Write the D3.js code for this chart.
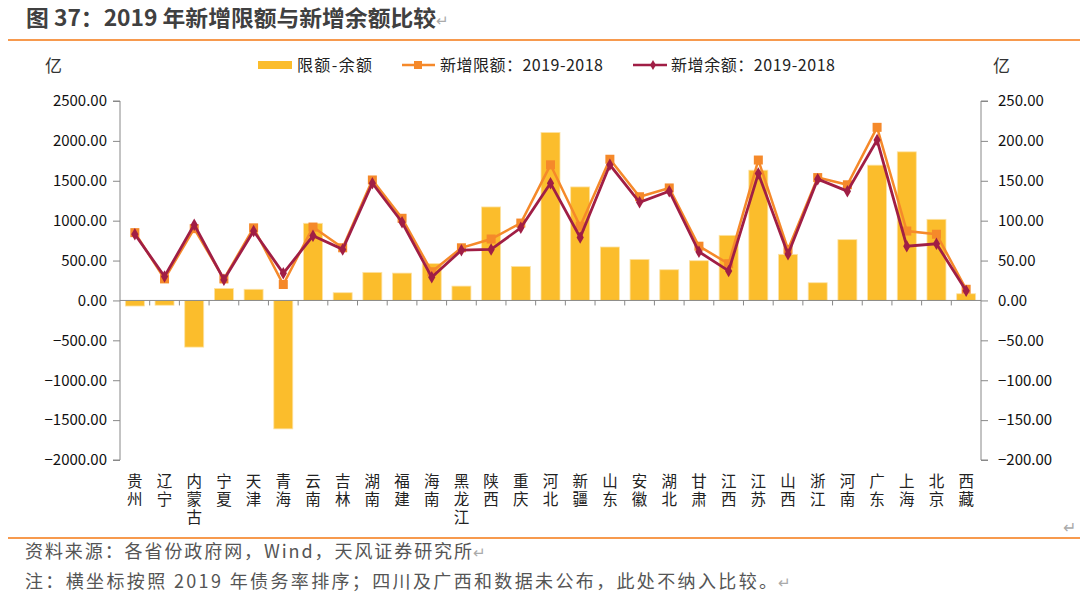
<!DOCTYPE html>
<html><head><meta charset="utf-8">
<script src="https://cdn.jsdelivr.net/npm/d3@7"></script>
<style>
body{margin:0;background:#fff;}
svg text{font-family:"Noto Sans CJK SC","Noto Sans",sans-serif;}
</style></head>
<body><svg id="c" width="1080" height="603"></svg>
<script>
const categories=["贵州","辽宁","内蒙古","宁夏","天津","青海","云南","吉林","湖南","福建","海南","黑龙江","陕西","重庆","河北","新疆","山东","安徽","湖北","甘肃","江西","江苏","山西","浙江","河南","广东","上海","北京","西藏"];
const diffValues=[-70,-60,-585,150,140,-1610,967,97,352,343,461,180,1172,427,2106,1423,670,515,385,498,816,1633,578,222,762,1696,1863,1017,84];
const newLimit=[85,27,90,27,91,20,92,66,151,103,36,66,77,97,170,93,177,130,141,68,46,176,64,154,145,217,87,83,14];
const newBalance=[83,30,95,26,87,34,81,64,147,98,29,63,64,91,147,79,170,123,137,61,37,159,58,152,137,201,68,71,12];
const leftTicks=[2500,2000,1500,1000,500,0,-500,-1000,-1500,-2000];
const rightTicks=[250,200,150,100,50,0,-50,-100,-150,-200];

const svg=d3.select("#c");
const L=120,R=981,T=101,B=460;
const yL=d3.scaleLinear().domain([-2000,2500]).range([B,T]);
const yR=d3.scaleLinear().domain([-200,250]).range([B,T]);
const x=d3.scaleBand().domain(categories).range([L,R]).paddingInner(0.36).paddingOuter(0.18);
const xb=d3.scaleBand().domain(categories).range([L,R]);

// title
svg.append("text").attr("x",26).attr("y",26).attr("font-size",22).attr("font-weight","bold").attr("fill","#404040")
  .attr("textLength",410).attr("lengthAdjust","spacingAndGlyphs")
  .text("图 37：2019 年新增限额与新增余额比较");
svg.append("text").attr("x",436).attr("y",26).attr("font-size",15).attr("fill","#aaa").text("↵");
svg.append("line").attr("x1",8).attr("x2",1080).attr("y1",40).attr("y2",40).attr("stroke","#F79A4E").attr("stroke-width",2);
svg.append("line").attr("x1",8).attr("x2",1080).attr("y1",538).attr("y2",538).attr("stroke","#F79A4E").attr("stroke-width",2);

// units
svg.append("text").attr("x",45).attr("y",72).attr("font-size",17).attr("fill","#333").text("亿");
svg.append("text").attr("x",993).attr("y",72).attr("font-size",17).attr("fill","#333").text("亿");

// left axis
const gl=svg.append("g").attr("transform",`translate(${L},0)`)
  .call(d3.axisLeft(yL).tickValues(leftTicks).tickFormat(d=>d3.format(".2f")(d)).tickSize(7).tickPadding(6));
gl.select(".domain").attr("stroke","#888").attr("d",`M-7,${T}H0V${B}H-7`);
gl.selectAll(".tick line").attr("stroke","#888");
gl.selectAll("text").attr("font-size",15).attr("fill","#111").attr("font-family","'Liberation Sans','DejaVu Sans',sans-serif");

const gr=svg.append("g").attr("transform",`translate(${R},0)`)
  .call(d3.axisRight(yR).tickValues(rightTicks).tickFormat(d=>d3.format(".2f")(d)).tickSize(7).tickPadding(10));
gr.select(".domain").attr("stroke","#888").attr("d",`M7,${T}H0V${B}H7`);
gr.selectAll(".tick line").attr("stroke","#888");
gr.selectAll("text").attr("font-size",15).attr("fill","#111").attr("font-family","'Liberation Sans','DejaVu Sans',sans-serif");

// bars
svg.append("g").selectAll("rect").data(categories).join("rect")
  .attr("x",d=>x(d)).attr("width",x.bandwidth())
  .attr("y",(d,i)=>yL(Math.max(0,diffValues[i])))
  .attr("height",(d,i)=>Math.abs(yL(diffValues[i])-yL(0)))
  .attr("fill","#FBBD2C").attr("stroke","#FDE3A6").attr("stroke-width",0.8);

// x axis at zero
const y0=yL(0);
svg.append("line").attr("x1",L).attr("x2",R).attr("y1",y0).attr("y2",y0).attr("stroke","#888");
svg.append("g").selectAll("line").data(categories.slice(1)).join("line")
  .attr("x1",d=>xb(d)).attr("x2",d=>xb(d)).attr("y1",y0).attr("y2",y0+5).attr("stroke","#888");

// x labels vertical (one vertical text per category)
svg.append("g").selectAll("text").data(categories).join("text")
  .attr("x",d=>xb(d)+xb.bandwidth()/2).attr("y",473)
  .style("writing-mode","vertical-rl").style("text-orientation","upright")
  .style("letter-spacing","2.9px")
  .attr("font-size",15.5).attr("fill","#222").text(d=>d);

// lines
const cx=d=>xb(d)+xb.bandwidth()/2;
const lineGen=arr=>d3.line().x((d)=>cx(d)).y((d,i)=>yR(arr[i]));
svg.append("path").datum(categories).attr("d",lineGen(newLimit)).attr("fill","none").attr("stroke","#F5892A").attr("stroke-width",2.5);
svg.append("g").selectAll("rect").data(categories).join("rect")
  .attr("x",d=>cx(d)-4.5).attr("y",(d,i)=>yR(newLimit[i])-4.5).attr("width",9).attr("height",9).attr("fill","#F5892A");
svg.append("path").datum(categories).attr("d",lineGen(newBalance)).attr("fill","none").attr("stroke","#A01E45").attr("stroke-width",2.8);
const diamond=d3.symbol().type(d3.symbolDiamond).size(45);
svg.append("g").selectAll("path").data(categories).join("path")
  .attr("transform",(d,i)=>`translate(${cx(d)},${yR(newBalance[i])})`).attr("d",diamond).attr("fill","#A01E45");

// legend
const lg=svg.append("g");
lg.append("rect").attr("x",258).attr("y",61).attr("width",34).attr("height",8).attr("fill","#FBBD2C");
lg.append("text").attr("x",297).attr("y",71).attr("font-size",16).attr("fill","#222")
  .attr("textLength",75).attr("lengthAdjust","spacing").text("限额-余额");
lg.append("line").attr("x1",402).attr("x2",435).attr("y1",65).attr("y2",65).attr("stroke","#F5892A").attr("stroke-width",2.5);
lg.append("rect").attr("x",414).attr("y",61).attr("width",8).attr("height",8).attr("fill","#F5892A");
lg.append("text").attr("x",440).attr("y",71).attr("font-size",16).attr("fill","#222")
  .attr("textLength",163).attr("lengthAdjust","spacing").text("新增限额：2019-2018");
lg.append("line").attr("x1",633).attr("x2",667).attr("y1",65).attr("y2",65).attr("stroke","#A01E45").attr("stroke-width",2.5);
lg.append("path").attr("transform","translate(653,65)").attr("d",d3.symbol().type(d3.symbolDiamond).size(30)).attr("fill","#A01E45");
lg.append("text").attr("x",671).attr("y",71).attr("font-size",16).attr("fill","#222")
  .attr("textLength",164).attr("lengthAdjust","spacing").text("新增余额：2019-2018");

// footer
svg.append("text").attr("x",1063).attr("y",533).attr("font-size",16).attr("fill","#aaa").text("↵");
svg.append("text").attr("x",25).attr("y",558).attr("font-size",18).attr("fill","#555")
  .attr("textLength",447).attr("lengthAdjust","spacing").text("资料来源：各省份政府网，Wind，天风证券研究所");
svg.append("text").attr("x",473).attr("y",558).attr("font-size",15).attr("fill","#aaa").text("↵");
svg.append("text").attr("x",25).attr("y",588).attr("font-size",18).attr("fill","#555")
  .attr("textLength",752).attr("lengthAdjust","spacing").text("注：横坐标按照 2019 年债务率排序；四川及广西和数据未公布，此处不纳入比较。");
svg.append("text").attr("x",778).attr("y",588).attr("font-size",15).attr("fill","#aaa").text("↵");
</script></body></html>
